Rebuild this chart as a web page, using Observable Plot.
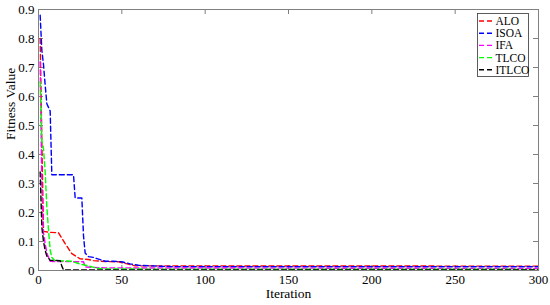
<!DOCTYPE html>
<html><head><meta charset="utf-8">
<script src="https://cdn.jsdelivr.net/npm/d3@7"></script>
<script src="https://cdn.jsdelivr.net/npm/@observablehq/plot@0.6"></script>
<style>body{margin:0;background:#fff} svg, svg text{font-family:"Liberation Serif","Times New Roman",serif !important}</style>
</head><body><div id="chart"></div>
<script>
const seriesNames = ["ALO", "ISOA", "IFA", "TLCO", "ITLCO"];

const aloIter = [1, 2, 3, 6, 12, 16, 20, 25, 30, 33, 40, 48, 58, 300];
const aloVal  = [0.80, 0.45, 0.135, 0.132, 0.13, 0.093, 0.058, 0.04, 0.038, 0.034, 0.031, 0.03, 0.016, 0.015];

const isoaIter = [1, 2, 3, 4, 5, 7, 8, 11, 21, 22, 26, 27, 28, 30, 33, 40, 45, 50, 55, 60, 80, 300];
const isoaVal  = [0.88, 0.76, 0.71, 0.64, 0.575, 0.55, 0.33, 0.33, 0.33, 0.25, 0.25, 0.12, 0.06, 0.048, 0.045, 0.032, 0.032, 0.03, 0.023, 0.018, 0.013, 0.013];

const ifaIter = [1, 2, 3, 4, 5, 6, 7, 10, 27, 28, 40, 300];
const ifaVal  = [0.72, 0.30, 0.13, 0.093, 0.06, 0.046, 0.032, 0.031, 0.03, 0.012, 0.009, 0.007];

const tlcoIter = [1, 2, 3, 4, 5, 6, 7, 8, 10, 20, 25, 30, 35, 40, 300];
const tlcoVal  = [0.65, 0.45, 0.42, 0.34, 0.22, 0.14, 0.07, 0.045, 0.034, 0.032, 0.022, 0.016, 0.008, 0.005, 0.004];

const itlcoIter = [1, 2, 3, 4, 5, 7, 13, 14, 15, 300];
const itlcoVal  = [0.34, 0.15, 0.10, 0.069, 0.05, 0.035, 0.034, 0.015, 0.002, 0.002];

const xTicks = [0, 50, 100, 150, 200, 250, 300];
const yTicks = [0, 0.1, 0.2, 0.3, 0.4, 0.5, 0.6, 0.7, 0.8, 0.9];
const yTickLabels = ["0", "0.1", "0.2", "0.3", "0.4", "0.5", "0.6", "0.7", "0.8", "0.9"];
const xLabel = "Iteration";
const yLabel = "Fitness Value";

const colors = ["#ff0000", "#0000ff", "#ff00ff", "#00ff00", "#000000"];

const iters = [aloIter, isoaIter, ifaIter, tlcoIter, itlcoIter];
const vals = [aloVal, isoaVal, ifaVal, tlcoVal, itlcoVal];
const data = [];
seriesNames.forEach((s, i) => iters[i].forEach((it, j) => data.push({series: s, iteration: it, value: vals[i][j]})));

const W = 550, H = 305, mL = 38, mR = 12, mT = 9, mB = 35;
const pw = W - mL - mR, ph = H - mT - mB, tk = 5;
const gray = "#808080";
const serif = "'Liberation Serif', 'Times New Roman', serif";

const chart = Plot.plot({
  width: W, height: H,
  marginLeft: mL, marginRight: mR, marginTop: mT, marginBottom: mB,
  style: {fontFamily: serif, fontSize: "13px", color: "#000", background: "#fff"},
  x: {domain: [0, 300]},
  y: {domain: [0, 0.9]},
  color: {domain: seriesNames, range: colors},
  marks: [
    Plot.ruleX(xTicks, {x: d => d, insetTop: ph - tk, stroke: gray}),
    Plot.ruleX(xTicks, {x: d => d, insetBottom: ph - tk, stroke: gray}),
    Plot.ruleY(yTicks, {y: d => d, insetRight: pw - tk, stroke: gray}),
    Plot.ruleY(yTicks, {y: d => d, insetLeft: pw - tk, stroke: gray}),
    Plot.axisX({ticks: xTicks, tickSize: 0, tickPadding: 4, label: null, tickFormat: d => String(d), fontSize: 13, fontFamily: serif}),
    Plot.axisY({ticks: yTicks, tickSize: 0, tickPadding: 4, label: null, tickFormat: d => yTickLabels[yTicks.indexOf(d)], fontSize: 13, fontFamily: serif}),
    Plot.line(data, {x: "iteration", y: "value", z: "series", stroke: "series", strokeWidth: 1.4, strokeDasharray: "5,3"}),
    Plot.frame({stroke: gray}),
    Plot.text([xLabel], {frameAnchor: "bottom", dy: 27, text: d => d, fontSize: 13.5, fill: "#000", fontFamily: serif}),
    Plot.text([yLabel], {frameAnchor: "left", dx: -28, text: d => d, rotate: -90, fontSize: 13.5, fill: "#000", fontFamily: serif})
  ]
});
chart.style.fontFamily = serif;
document.getElementById("chart").appendChild(chart);

// legend
const svg = d3.select(chart);
const lg = svg.append("g").attr("font-family", serif).attr("text-anchor", "start");
const lx = 477, ly = 13, lw = 51, lh = 63;
lg.append("rect").attr("x", lx + 0.5).attr("y", ly + 0.5).attr("width", lw).attr("height", lh)
  .attr("fill", "#fff").attr("stroke", "#333").attr("stroke-width", 0.8);
seriesNames.forEach((s, i) => {
  const y = ly + 8 + i * 12.2;
  lg.append("line").attr("x1", lx + 2).attr("x2", lx + 15).attr("y1", y).attr("y2", y)
    .attr("stroke", colors[i]).attr("stroke-width", 1.4).attr("stroke-dasharray", "5,3");
  lg.append("text").attr("x", lx + 18.5).attr("y", y).attr("dy", "0.35em")
    .attr("text-anchor", "start").attr("font-size", 11.5).attr("fill", "#000").text(s);
});
</script>
</body></html>
